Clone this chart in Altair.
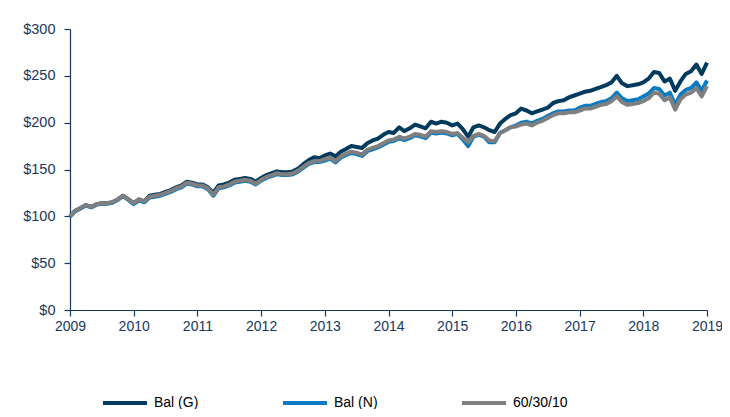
import altair as alt
import pandas as pd

series_names = ["Bal (G)", "Bal (N)", "60/30/10"]
series_colors = ["#003A5D", "#0A7BC2", "#7F7F7F"]

start_year = 2009
year_ticks = [2009, 2010, 2011, 2012, 2013, 2014, 2015, 2016, 2017, 2018, 2019]
y_ticks = [0, 50, 100, 150, 200, 250, 300]

bal_g = [100, 106, 109, 112, 110, 113, 114, 114, 115, 118, 122, 118,
         114, 118, 116, 122, 123, 124, 126, 128, 131, 133, 137, 136,
         134, 134, 131, 125, 133, 134, 136, 139, 140, 141, 140, 137,
         141, 144, 146, 148, 147, 147, 148, 151, 156, 160, 163, 162,
         165, 167, 164, 169, 172, 175, 174, 173, 178, 181, 183, 187,
         190, 189, 195, 191, 194, 198, 196, 194, 201, 199, 201, 200,
         197, 199, 193, 185, 195, 197, 195, 192, 190, 199, 204, 208,
         210, 215, 213, 210, 212, 214, 216, 221, 223, 224, 227, 229,
         231, 233, 234, 236, 238, 240, 243, 250, 242, 239, 240, 241,
         243, 247, 254, 253, 244, 247, 234, 244, 252, 255, 262, 252,
         264]

bal_n = [100, 105.5, 108.5, 111.5, 109.5, 112.5, 113.5, 113.5, 114.5, 117.5, 121.5, 117.5,
         113, 117, 115, 120, 121, 122, 124, 126, 129, 131, 135, 134,
         132, 132, 129, 122, 130, 131, 133, 136, 137, 138, 137, 134,
         138, 141, 143, 145, 144, 144, 145, 148, 152, 156, 158, 158,
         159.5, 161.5, 157.5, 162.5, 165.5, 167.5, 166.5, 164.5, 169.5, 171.5, 173.5, 176.5,
         179.5, 180.5, 183.5, 181.5, 183.5, 186.5, 185.5, 183.5, 189.5, 188.5, 189.5, 188.5,
         186.5, 188, 182, 175, 185, 187, 185, 179, 179, 189, 192, 195,
         197, 200, 201, 199, 202, 204, 207, 210, 212, 212, 213, 213,
         216, 218, 218, 220, 222, 223, 226, 232, 226, 223, 224, 225,
         228, 231, 237, 236, 229, 232, 219, 230, 235, 237, 243, 234,
         245]

mix_603010 = [100, 106, 109, 112, 110, 113, 114, 114, 115, 118, 122, 118,
              114, 118, 116, 121, 122, 123, 125, 127, 130, 132, 136, 135,
              133, 133, 130, 123, 131, 132, 134, 137, 138, 139, 138, 135,
              139, 142, 144, 146, 145, 145, 146, 149, 153, 157, 159, 159,
              161, 163, 159, 164, 167, 169, 168, 166, 171, 173, 175, 178,
              181, 182, 185, 183, 185, 188, 187, 185, 191, 190, 191, 190,
              188, 189, 184, 179, 186, 188, 186, 181, 180, 189, 192, 195,
              196, 198, 199, 197, 200, 202, 205, 208, 210, 210, 211, 211,
              213, 215, 215, 217, 219, 220, 223, 228, 222, 219, 220, 221,
              223, 226, 232, 231, 224, 227, 214, 225, 230, 232, 237, 228,
              239]

rows = []
for name, vals in zip(series_names, [bal_g, bal_n, mix_603010]):
    for i, v in enumerate(vals):
        rows.append({"t": start_year + i / 12.0, "value": v, "series": name})
df = pd.DataFrame(rows)

axis_color = "#17375E"
font = "Liberation Sans"

color_scale = alt.Scale(domain=series_names, range=series_colors)

layers = []
for idx, name in enumerate(series_names):
    layer = alt.Chart(df).transform_filter(
        alt.datum.series == name
    ).mark_line(strokeWidth=4, strokeJoin="round").encode(
        x=alt.X("t:Q",
                scale=alt.Scale(domain=[2009, 2019], nice=False, zero=False),
                axis=alt.Axis(values=year_ticks, format="d", title=None, grid=False,
                              labelFlush=False, labelOverlap=False,
                              domainColor=axis_color, tickColor=axis_color,
                              labelColor=axis_color, labelFont=font, labelFontSize=14,
                              tickSize=6, labelPadding=3, domainWidth=1.2, tickWidth=1.2)),
        y=alt.Y("value:Q",
                scale=alt.Scale(domain=[0, 300], nice=False),
                axis=alt.Axis(values=y_ticks, format="$,.0f", title=None, grid=False,
                              labelFlush=False, labelOverlap=False,
                              domainColor=axis_color, tickColor=axis_color,
                              labelColor=axis_color, labelFont=font, labelFontSize=14.5,
                              tickSize=6, labelPadding=9, domainWidth=1.2, tickWidth=1.2)),
        color=alt.Color("series:N", scale=color_scale,
                        legend=alt.Legend(title=None, orient="none", direction="horizontal",
                                          legendX=31, legendY=350,
                                          symbolType="stroke", symbolSize=1936,
                                          symbolStrokeWidth=4, labelFont=font,
                                          labelFontSize=14, labelColor="#000000",
                                          labelOffset=5, columnPadding=76,
                                          padding=0)),
    )
    layers.append(layer)

chart = alt.layer(*layers).properties(
    width=637, height=281,
    autosize=alt.AutoSizeParams(type="none"),
    padding={"left": 62, "top": 21, "right": 15, "bottom": 99},
).configure_view(stroke=None)

chart.save("out.html", embed_options={"renderer": "svg", "actions": False})
